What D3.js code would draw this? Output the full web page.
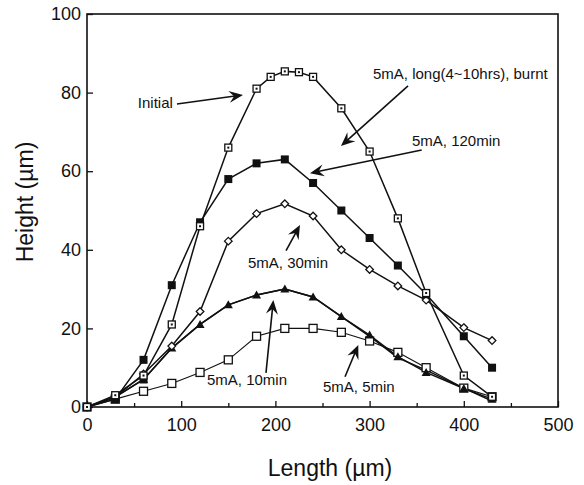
<!DOCTYPE html>
<html>
<head>
<script src="https://d3js.org/d3.v7.min.js"></script>
<style>
  body { margin: 0; background: #fff; }
  text { font-family: "Liberation Sans", Arial, sans-serif; fill: #111; }
</style>
</head>
<body>
<svg id="chart" width="584" height="485"></svg>
<script>
// data (length in um, height in um)
const xFull = [0, 30, 60, 90, 120, 150, 180, 195, 210, 225, 240, 270, 300, 330, 360, 400, 430];
const initialY = [0, 3, 8, 21, 46, 66, 81, 84, 85.4, 85.2, 84, 76, 65, 48, 29, 8, 2.6];

const xStd = [0, 30, 60, 90, 120, 150, 180, 210, 240, 270, 300, 330, 360, 400, 430];
const min120Y = [0, 2, 12, 31, 47, 58, 62, 63, 57, 50, 43, 36, 28.7, 18, 10];
const min30Y  = [0, 2.5, 8.4, 15.5, 24.3, 42.2, 49.2, 51.7, 48.6, 40, 35, 30.8, 27.2, 20.2, 16.9];
const min10Y  = [0, 2.5, 7, 15, 21, 26, 28.5, 30, 28, 23, 18.3, 12.8, 8.8, 4.7, 2];
const min5Y   = [0, 2, 4, 6, 8.8, 12, 18, 20, 20, 19, 16.8, 13.9, 10, 4.8, 2.6];
const burntY  = [0, 2.6, 7, 15, 21, 26, 28.5, 30, 28, 23, 18, 12.5, 9.4, 4.8, 1.5];

const xTicks = [0, 100, 200, 300, 400, 500];
const xMinor = [50, 150, 250, 350, 450];
const yTicks = [0, 20, 40, 60, 80, 100];

// annotations: label, text anchor point, arrow tail, arrow tip (data units)
const notes = [
  { label: "Initial", tx: 54, ty: 76.1, x1: 95.5, y1: 77.1, x2: 165.6, y2: 79.4 },
  { label: "5mA, long(4~10hrs), burnt", tx: 303.6, ty: 83.5, x1: 340.8, y1: 81.7, x2: 269.6, y2: 66.4 },
  { label: "5mA, 120min", tx: 345, ty: 66.4, x1: 355.3, y1: 65.4, x2: 236.7, y2: 59.5 },
  { label: "5mA, 30min", tx: 170.9, ty: 35.4, x1: 211.3, y1: 39.8, x2: 226.1, y2: 46.3 },
  { label: "5mA, 10min", tx: 127.4, ty: 5.6, x1: 190, y1: 8.7, x2: 197.8, y2: 27.2 },
  { label: "5mA, 5min", tx: 250.5, ty: 3.8, x1: 273.9, y1: 7.7, x2: 288, y2: 15.8 }
];

const svg = d3.select("#chart");
const plotL = 87, plotR = 558, plotT = 14, plotB = 407;

const x = d3.scaleLinear().domain([0, 500]).range([plotL, plotR]);
const y = d3.scaleLinear().domain([0, 100]).range([plotB, plotT]);

// frame
svg.append("rect")
  .attr("x", plotL).attr("y", plotT)
  .attr("width", plotR - plotL).attr("height", plotB - plotT)
  .attr("fill", "none").attr("stroke", "#111").attr("stroke-width", 1.6);

// axes with inward ticks
svg.append("g")
  .attr("transform", `translate(0,${plotB})`)
  .call(d3.axisBottom(x).tickValues(xTicks).tickSize(-6).tickPadding(11).tickFormat(d3.format("d")));
svg.append("g")
  .attr("transform", `translate(0,${plotB})`)
  .call(d3.axisBottom(x).tickValues(xMinor).tickSize(-4).tickFormat(""));
svg.append("g")
  .attr("transform", `translate(${plotL},0)`)
  .call(d3.axisLeft(y).tickValues(yTicks).tickSize(-6).tickPadding(6).tickFormat(d3.format("d")));

svg.selectAll(".domain").remove();
svg.selectAll(".tick line").attr("stroke", "#111").attr("stroke-width", 1.3);
svg.selectAll(".tick text")
  .style("font-family", '"Liberation Sans", Arial, sans-serif')
  .style("font-size", "18px").attr("fill", "#111");

// axis titles
svg.append("text")
  .attr("x", 330).attr("y", 476)
  .attr("text-anchor", "middle")
  .style("font-size", "23px")
  .text("Length (\u00b5m)");

svg.append("text")
  .attr("transform", "translate(33,202) rotate(-90)")
  .attr("text-anchor", "middle")
  .style("font-size", "23px")
  .text("Height (\u00b5m)");

// series; the lower filled-square curve runs under the 10min triangles,
// so its squares are only drawn where the two curves part
const series = [
  { xs: xStd, ys: burntY, marker: "fsquare", w: 1.5, hideNear: min10Y },
  { xs: xStd, ys: min5Y, marker: "osquare", w: 1.1 },
  { xs: xStd, ys: min10Y, marker: "triangle", w: 1.5 },
  { xs: xStd, ys: min30Y, marker: "diamond", w: 1.5 },
  { xs: xStd, ys: min120Y, marker: "fsquare", w: 1.5 },
  { xs: xFull, ys: initialY, marker: "dsquare", w: 1.5 }
];

const line = d3.line().x(d => x(d[0])).y(d => y(d[1]));

series.forEach(s => {
  const pts = s.xs.map((v, i) => [v, s.ys[i]]);
  svg.append("path")
    .datum(pts)
    .attr("d", line)
    .attr("fill", "none")
    .attr("stroke", "#111")
    .attr("stroke-width", s.w);
});

series.forEach(s => {
  const g = svg.append("g");
  s.xs.forEach((xv, i) => {
    const yv = s.ys[i];
    if (s.hideNear && i > 2 && Math.abs(s.hideNear[i] - yv) < 0.6) return;
    const cx = x(xv), cy = y(yv);
    if (s.marker === "fsquare") {
      g.append("rect").attr("x", cx - 4).attr("y", cy - 4).attr("width", 8).attr("height", 8)
        .attr("fill", "#111");
    } else if (s.marker === "osquare") {
      g.append("rect").attr("x", cx - 4).attr("y", cy - 4).attr("width", 8).attr("height", 8)
        .attr("fill", "#fff").attr("stroke", "#111").attr("stroke-width", 1.3);
    } else if (s.marker === "dsquare") {
      g.append("rect").attr("x", cx - 3.5).attr("y", cy - 3.5).attr("width", 7).attr("height", 7)
        .attr("fill", "#fff").attr("stroke", "#111").attr("stroke-width", 1.3);
      g.append("rect").attr("x", cx - 1).attr("y", cy - 1).attr("width", 2).attr("height", 2)
        .attr("fill", "#111");
    } else if (s.marker === "triangle") {
      g.append("path").attr("d", `M${cx},${cy - 4.5}L${cx + 4.5},${cy + 3.5}L${cx - 4.5},${cy + 3.5}Z`)
        .attr("fill", "#111");
    } else if (s.marker === "diamond") {
      g.append("path").attr("d", `M${cx},${cy - 3.8}L${cx + 3.8},${cy}L${cx},${cy + 3.8}L${cx - 3.8},${cy}Z`)
        .attr("fill", "#fff").attr("stroke", "#111").attr("stroke-width", 1.3);
    }
  });
});

// annotations
notes.forEach(n => {
  svg.append("text")
    .attr("x", x(n.tx)).attr("y", y(n.ty))
    .style("font-size", "15px")
    .text(n.label);

  const ax1 = x(n.x1), ay1 = y(n.y1), ax2 = x(n.x2), ay2 = y(n.y2);
  const ang = Math.atan2(ay2 - ay1, ax2 - ax1);
  svg.append("line")
    .attr("x1", ax1).attr("y1", ay1)
    .attr("x2", ax2 - 8 * Math.cos(ang))
    .attr("y2", ay2 - 8 * Math.sin(ang))
    .attr("stroke", "#111").attr("stroke-width", 1.6);
  svg.append("path")
    .attr("d", "M0,0L-14,-6L-9,0L-14,6Z")
    .attr("transform", `translate(${ax2},${ay2}) rotate(${ang * 180 / Math.PI})`)
    .attr("fill", "#111");
});
</script>
</body>
</html>
